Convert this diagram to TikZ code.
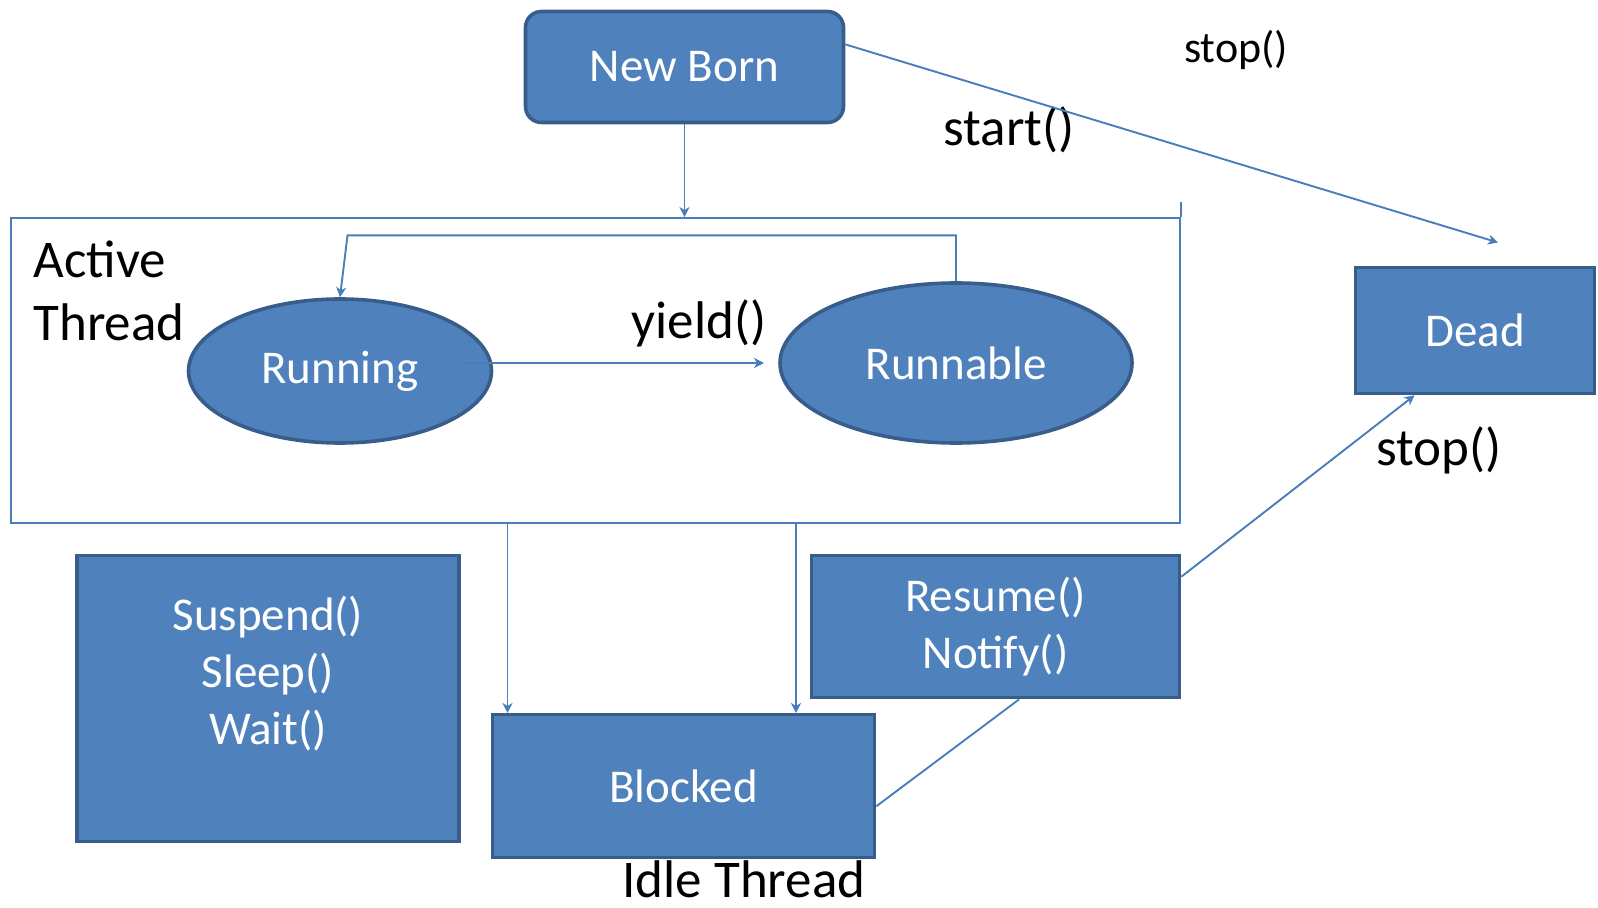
\documentclass[tikz,border=0pt]{standalone}
\usepackage{fontspec}
\setmainfont{Carlito}
\usepackage{xcolor}
\usetikzlibrary{shapes.geometric, arrows.meta}

\definecolor{boxblue}{HTML}{4F81BD}
\definecolor{boxedge}{HTML}{385D8A}
\definecolor{linkblue}{HTML}{4A7EBB}

\newcommand{\statefont}{\fontsize{23.5}{28.5}\selectfont}
\newcommand{\labelfont}{\fontsize{26.5}{31.6}\selectfont}
\newcommand{\smalllabelfont}{\fontsize{22}{26}\selectfont}

\begin{document}
\begin{tikzpicture}[
  x=0.5pt, y=-0.5pt,
  statebox/.style={rectangle, draw=boxedge, fill=boxblue, line width=1.8pt,
    text=white, font=\statefont, align=center, inner sep=0pt},
  stateoval/.style={ellipse, draw=boxedge, fill=boxblue, line width=1.8pt,
    text=white, font=\statefont, inner sep=0pt},
  link/.style={draw=linkblue, line width=0.95pt},
  tip/.style={-{Stealth[length=5pt, width=5pt, inset=1.5pt]}},
  lbl/.style={font=\labelfont, inner sep=0pt},
]

  \useasboundingbox (0,0) rectangle (1598,908);

  % ── New Born ──
  \node[statebox, rounded corners=8pt, minimum width=159pt, minimum height=55.5pt]
    (newborn) at (684.5,67) {New Born};

  % ── Active Thread frame ──
  \node[draw=linkblue, line width=0.95pt, minimum width=584.5pt, minimum height=152.5pt,
    inner sep=0pt] (active) at (595.6,370.5) {};
  \draw[link] (active.north east) -- ++(0,-15);
  \node[lbl, anchor=north west, align=left] (activelbl) at (33,240) {Active\\Thread};

  % ── Running / Runnable ──
  \node[stateoval, minimum width=151.5pt, minimum height=72pt] (running) at (340,371)
    {\raisebox{-3pt}{Running}};
  \node[stateoval, minimum width=176pt, minimum height=80pt] (runnable) at (956,363) {Runnable};

  % ── Dead ──
  \node[statebox, minimum width=119.5pt, minimum height=63pt] (dead) at (1475,330.5) {Dead};

  % ── Idle Thread ──
  \node[statebox, minimum width=191pt, minimum height=143pt] (suspend) at (268,698.5)
    {Suspend()\\Sleep()\\Wait()\\~};
  \node[statebox, minimum width=191pt, minimum height=71.5pt] (blocked) at (683.5,786) {Blocked};
  \node[statebox, minimum width=184pt, minimum height=71pt] (resume) at (995.5,626.5)
    {Resume()\\Notify()};

  % ── Labels ──
  \node[lbl, anchor=base] (yieldlbl) at (699,339) {yield()};
  \node[lbl, anchor=base] (startlbl) at (1009,146) {start()};
  \node[lbl, anchor=base, font=\smalllabelfont] (stoptop) at (1236,63) {stop()};
  \node[lbl, anchor=base] (stopbot) at (1439,465) {stop()};
  \node[lbl, anchor=base] (idlelbl) at (744,897) {Idle Thread};

  % ── Connectors ──
  \coordinate (deadin) at (1498,242.5);
  \coordinate (yieldfrom) at (464,363);
  \coordinate (yieldto) at (764,363);
  \coordinate (looptop) at (347.5,235.4);
  \coordinate (blockin1) at (507.5,713);
  \coordinate (blockin2) at (796,713);

  \draw[link, tip] (newborn.south) -- (newborn.south |- active.north);
  \draw[link, tip] (newborn.8) -- (deadin);
  \draw[link, tip] (yieldfrom) -- (yieldto);
  \draw[link, tip] (runnable.north) -- (runnable.north |- looptop) -- (looptop) -- (running.north);
  \draw[link, tip] (active.south -| blockin1) -- (blockin1);
  \draw[link, tip] (active.south -| blockin2) -- (blockin2);
  \draw[link, tip] (resume.15) -- (dead.227);
  \draw[link] (resume.288) -- (blocked.-6.5);

\end{tikzpicture}
\end{document}
